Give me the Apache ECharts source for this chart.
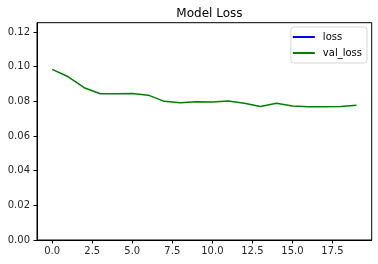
<!DOCTYPE html>
<html>
<head>
<meta charset="utf-8">
<script src="https://cdn.jsdelivr.net/npm/echarts@6/dist/echarts.min.js"></script>
<style>html,body{margin:0;padding:0;background:#fff}#c{width:378px;height:264px}</style>
</head>
<body>
<div id="c"></div>
<script>
// epochs
const epochs = [0,1,2,3,4,5,6,7,8,9,10,11,12,13,14,15,16,17,18,19];
// training loss: not visible inside the plotted range in the reference
const lossValues = [];
// validation loss
const valLossValues = [0.0985,0.0942,0.0879,0.0844,0.0844,0.0846,0.0836,0.0800,0.0792,0.0798,
                       0.0796,0.0802,0.0789,0.0771,0.0789,0.0773,0.0769,0.0769,0.0771,0.0777];
const xTicks = [0,2.5,5,7.5,10,12.5,15,17.5];
const yTicks = [0,0.02,0.04,0.06,0.08,0.10,0.12];

const font = 'DejaVu Sans';
const chart = echarts.init(document.getElementById('c'), null, {renderer:'canvas'});
chart.setOption({
  animation:false,
  backgroundColor:'#fff',
  title:{text:'Model Loss', left:204.4, textAlign:'center', top:3,
    textStyle:{fontFamily:font, fontSize:12, fontWeight:'normal', color:'#000'}},
  legend:{
    orient:'vertical', right:11, top:27, icon:'rect', itemWidth:22, itemHeight:2,
    itemGap:6, padding:[5,5,5,2],
    borderColor:'#d6d6d6', borderWidth:1, borderRadius:3, backgroundColor:'#fff',
    textStyle:{fontFamily:font, fontSize:10, color:'#000', padding:[0,0,0,3]},
    data:['loss','val_loss']
  },
  grid:{left:37, right:6.3, top:22.7, bottom:24, show:true, borderColor:'#000', borderWidth:1},
  xAxis:{
    type:'value', min:-0.95, max:19.95,
    axisLine:{show:true, onZero:false, lineStyle:{color:'#000', width:1}},
    axisTick:{show:true, length:3.5, customValues:xTicks, lineStyle:{color:'#000'}},
    axisLabel:{customValues:xTicks, margin:6, fontFamily:font, fontSize:10, color:'#262626',
      formatter:v=>v.toFixed(1)},
    splitLine:{show:false}
  },
  yAxis:{
    type:'value', min:0, max:0.1254,
    axisLine:{show:true, onZero:false, lineStyle:{color:'#000', width:1}},
    axisTick:{show:true, length:3.5, customValues:yTicks, lineStyle:{color:'#000'}},
    axisLabel:{customValues:yTicks, margin:7, fontFamily:font, fontSize:10, color:'#262626',
      formatter:v=>v.toFixed(2)},
    splitLine:{show:false}
  },
  series:[
    {name:'loss', type:'line', color:'blue', showSymbol:false, symbol:'none',
     lineStyle:{width:1.5, color:'blue'}, data:lossValues.map((v,i)=>[epochs[i],v])},
    {name:'val_loss', type:'line', color:'green', showSymbol:false, symbol:'none',
     lineStyle:{width:1.5, color:'green'}, data:valLossValues.map((v,i)=>[epochs[i],v])}
  ]
});
</script>
</body>
</html>
